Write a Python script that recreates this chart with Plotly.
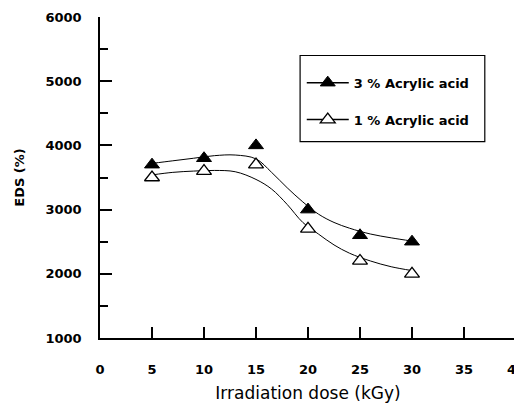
import plotly.graph_objects as go

# ---- data ----
doses = [5, 10, 15, 20, 25, 30]
eds_3pct = [3700, 3800, 4000, 3000, 2600, 2500]
eds_1pct = [3500, 3600, 3700, 2700, 2200, 2000]

# fitted curves
curve_x = [5, 7, 9, 11, 13, 15, 16.5, 18, 19.5, 21, 22.5, 24, 26, 28, 30]
curve_3pct = [3720, 3760, 3800, 3840, 3850, 3790, 3580, 3340, 3120, 2930, 2800, 2710, 2620, 2560, 2510]
curve_1pct = [3540, 3580, 3600, 3610, 3590, 3470, 3320, 3080, 2800, 2620, 2450, 2320, 2200, 2110, 2050]

x_ticks = [0, 5, 10, 15, 20, 25, 30, 35, 40]
y_ticks = [1000, 2000, 3000, 4000, 5000, 6000]

labels = ["3 % Acrylic acid", "1 % Acrylic acid"]

FONT = "DejaVu Sans"

fig = go.Figure()

# curves
for cy in (curve_3pct, curve_1pct):
    fig.add_trace(go.Scatter(x=curve_x, y=cy, mode="lines", line=dict(color="black", width=1, shape="spline"),
                             showlegend=False, hoverinfo="skip"))

# markers
fig.add_trace(go.Scatter(x=doses, y=eds_3pct, mode="markers", showlegend=False,
                         marker=dict(symbol="triangle-up", size=13, color="black", line=dict(color="black", width=1))))
fig.add_trace(go.Scatter(x=doses, y=eds_1pct, mode="markers", showlegend=False,
                         marker=dict(symbol="triangle-up", size=13, color="white", line=dict(color="black", width=1.3))))

# legend entries
fig.add_trace(go.Scatter(x=[None], y=[None], mode="lines+markers", name=labels[0], legendgroup="a",
                         line=dict(color="black", width=1.5),
                         marker=dict(symbol="triangle-up", size=13, color="black", line=dict(color="black", width=1))))
fig.add_trace(go.Scatter(x=[None], y=[None], mode="lines+markers", name=labels[1], legendgroup="b",
                         line=dict(color="black", width=1.5),
                         marker=dict(symbol="triangle-up", size=13, color="white", line=dict(color="black", width=1.3))))

# page body adds an 8px offset, so the figure is 8px smaller than the window
fig.update_layout(
    width=514, height=395,
    margin=dict(l=92, r=6, t=9, b=65),
    paper_bgcolor="white", plot_bgcolor="white",
    font=dict(family=FONT, color="black"),
    legend=dict(x=0.485, xanchor="left", y=0.842, yanchor="top", bgcolor="rgba(0,0,0,0)",
                borderwidth=0, font=dict(family=FONT, size=13, color="black", weight="bold"),
                traceorder="grouped", tracegroupgap=17, itemwidth=42),
    shapes=[dict(type="rect", xref="paper", yref="paper", x0=0.481, x1=0.925, y0=0.612, y1=0.88,
                 line=dict(color="black", width=1.2), fillcolor="rgba(0,0,0,0)")],
)

fig.update_xaxes(range=[0, 40], tickvals=x_ticks, ticks="inside", ticklen=11, tickwidth=1.5, tickcolor="black",
                 showline=True, linecolor="black", linewidth=1.5, showgrid=False, zeroline=False, automargin=False,
                 ticklabeloverflow="allow",
                 tickfont=dict(family=FONT, size=13, color="black", weight="bold"), ticklabelstandoff=19,
                 title=dict(text="Irradiation dose (kGy)", font=dict(family=FONT, size=17, color="black"), standoff=23))
fig.update_yaxes(range=[1000, 6000], tickvals=y_ticks, ticks="inside", ticklen=12, tickwidth=1.5, tickcolor="black",
                 minor=dict(ticks="inside", ticklen=8, tickwidth=1.5, tickcolor="black", dtick=500, tick0=0),
                 showline=True, linecolor="black", linewidth=1.5, showgrid=False, zeroline=False, automargin=False,
                 tickfont=dict(family=FONT, size=13, color="black", weight="bold"), ticklabelstandoff=14,
                 title=dict(text="EDS (%)", font=dict(family=FONT, size=13, color="black", weight="bold"), standoff=18))

fig.write_html("out.html")
